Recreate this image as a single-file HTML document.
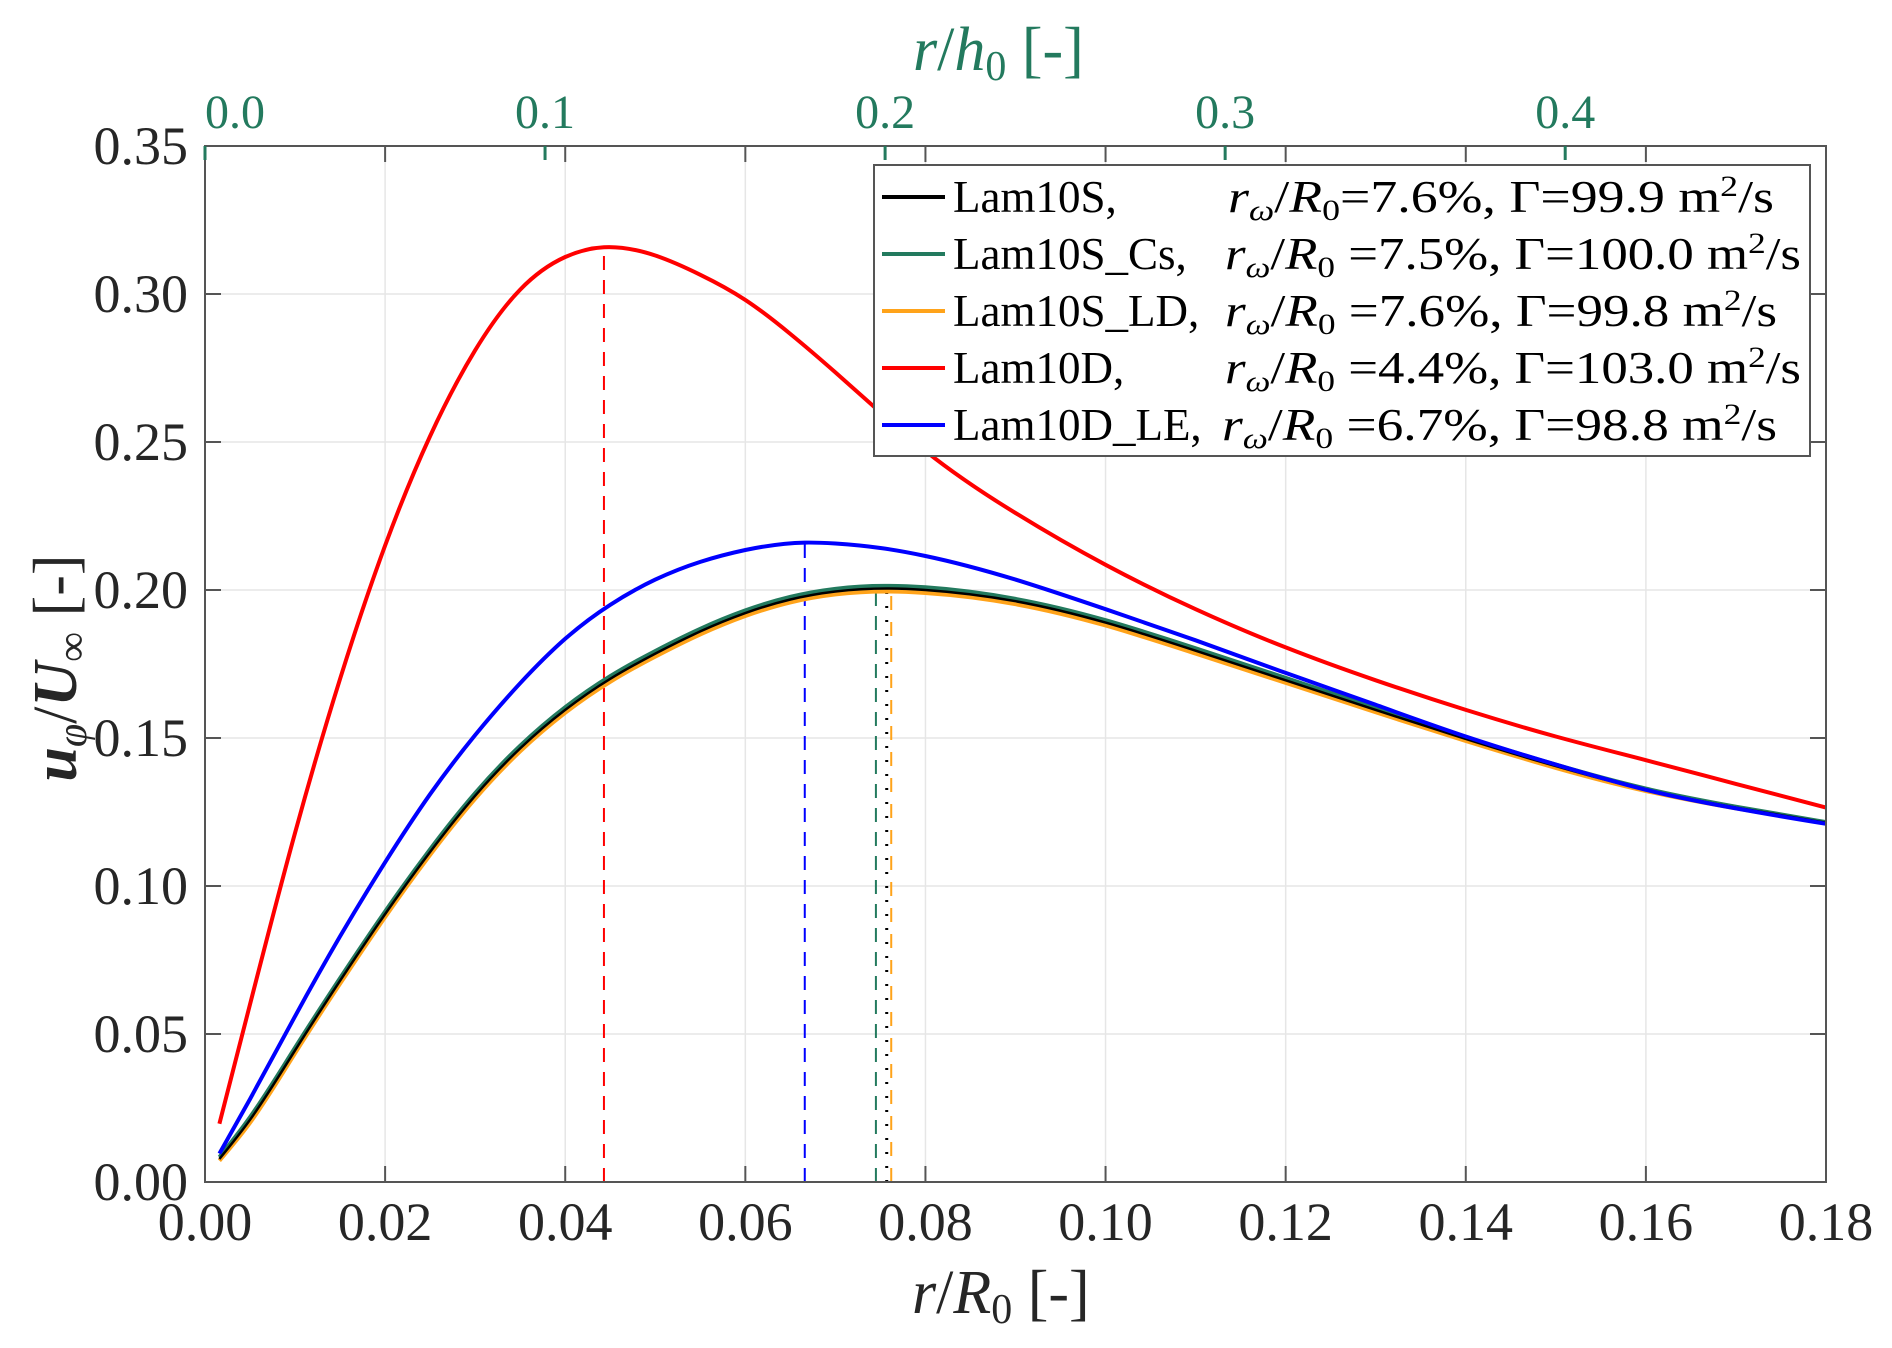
<!DOCTYPE html>
<html><head><meta charset="utf-8"><style>
html,body{margin:0;padding:0;background:#fff;}
svg{display:block;font-family:"Liberation Serif","DejaVu Serif",serif;}
</style></head><body>
<svg id="chart" width="1892" height="1348" viewBox="0 0 1892 1348" xmlns="http://www.w3.org/2000/svg">
<rect x="0" y="0" width="1892" height="1348" fill="#fff"/>
<g id="grid"></g>
<g id="marks"></g>
<g id="axes"></g>
<g id="legend"></g>
</svg>
<script>
const xTicks = [0.00,0.02,0.04,0.06,0.08,0.10,0.12,0.14,0.16,0.18];
const xTickLabels = ["0.00","0.02","0.04","0.06","0.08","0.10","0.12","0.14","0.16","0.18"];
const yTicks = [0,0.05,0.10,0.15,0.20,0.25,0.30,0.35];
const yTickLabels = ["0.00","0.05","0.10","0.15","0.20","0.25","0.30","0.35"];
const topTicks = [0.0,0.1,0.2,0.3,0.4];
const topTickLabels = ["0.0","0.1","0.2","0.3","0.4"];
const hRatio = 0.3776; // r/R0 per unit r/h0

const xRed = [0.0016,0.005,0.01,0.015,0.02,0.025,0.03,0.035,0.04,0.0443,0.05,0.055,0.06,0.065,0.07,0.075,0.08,0.09,0.10,0.11,0.12,0.13,0.14,0.15,0.16,0.17,0.18];
const yRed = [0.0197,0.060,0.118,0.170,0.215,0.252,0.281,0.3015,0.3125,0.3158,0.3130,0.3065,0.298,0.2865,0.2735,0.2600,0.2470,0.2260,0.2085,0.1935,0.1806,0.1695,0.1595,0.1505,0.1425,0.1345,0.1265];
const xBlue = [0.0016,0.005,0.01,0.015,0.02,0.025,0.03,0.035,0.04,0.045,0.05,0.055,0.06,0.0666,0.07,0.075,0.08,0.09,0.10,0.11,0.12,0.13,0.14,0.15,0.16,0.17,0.18];
const yBlue = [0.0096,0.028,0.056,0.083,0.108,0.131,0.151,0.1685,0.1835,0.1950,0.2035,0.2095,0.2135,0.216,0.2157,0.2142,0.2115,0.2035,0.1935,0.183,0.172,0.1612,0.1505,0.141,0.1325,0.1262,0.121];
const xBase = [0.0016,0.005,0.01,0.015,0.02,0.025,0.03,0.035,0.04,0.045,0.05,0.055,0.06,0.065,0.07,0.0757,0.08,0.09,0.10,0.11,0.12,0.13,0.14,0.15,0.16,0.17,0.18];
const yBlack = [0.0078,0.021,0.0445,0.068,0.0905,0.1115,0.1305,0.1465,0.1595,0.170,0.1785,0.186,0.1922,0.1968,0.1995,0.2005,0.2,0.1962,0.189,0.1795,0.1695,0.1595,0.1497,0.1405,0.1325,0.1265,0.1214];
const yGreen = [0.0084,0.0219,0.0454,0.0689,0.0914,0.1124,0.1314,0.1474,0.1604,0.1709,0.1794,0.1869,0.1931,0.1977,0.2004,0.2014,0.2009,0.197,0.1898,0.1803,0.1703,0.1602,0.1503,0.141,0.1329,0.1268,0.1216];
const yOrange = [0.0072,0.0200,0.0435,0.067,0.0895,0.1105,0.1295,0.1455,0.1585,0.169,0.1775,0.185,0.1912,0.1958,0.1985,0.1995,0.199,0.1952,0.188,0.1785,0.1686,0.1587,0.149,0.1399,0.1321,0.1262,0.1212];
const peakR = [0.0443,0.0666,0.0745,0.0757,0.0762];
const peakV = [0.3158,0.216,0.2015,0.2005,0.1995];

const L=205, R=1826, T=146, B=1182;
const xS = v => L + (v-0)/(0.18-0)*(R-L);
const yS = v => B - (v-0)/(0.35-0)*(B-T);
const NS="http://www.w3.org/2000/svg";
function mk(tag, parent, attrs){const e=document.createElementNS(NS,tag);for(const k in attrs)e.setAttribute(k,attrs[k]);parent.appendChild(e);return e;}
const grid=document.getElementById('grid'), marks=document.getElementById('marks'), axes=document.getElementById('axes'), leg=document.getElementById('legend');

xTicks.forEach((t,i)=>{
  if(i>0&&i<xTicks.length-1){const g=mk('line',grid,{x1:xS(t),x2:xS(t),y1:T,y2:B,stroke:'#e6e6e6','stroke-width':1.5});
  
  }
  const tk=mk('line',axes,{x1:xS(t),x2:xS(t),y1:B,y2:B-16,stroke:'#555','stroke-width':2});
  
  
  const tk2=mk('line',axes,{x1:xS(t),x2:xS(t),y1:T,y2:T+16,stroke:'#555','stroke-width':2});
  
  
  const lb=mk('text',axes,{x:xS(t),y:1240,'text-anchor':'middle','font-size':54,fill:'#262626'});
  lb.textContent=xTickLabels[i];
  
  
});
yTicks.forEach((t,i)=>{
  if(i>0&&i<yTicks.length-1){const g=mk('line',grid,{x1:L,x2:R,y1:yS(t),y2:yS(t),stroke:'#e6e6e6','stroke-width':1.5});
  
  }
  const tk=mk('line',axes,{x1:L,x2:L+16,y1:yS(t),y2:yS(t),stroke:'#555','stroke-width':2});
  
  
  const tk2=mk('line',axes,{x1:R,x2:R-16,y1:yS(t),y2:yS(t),stroke:'#555','stroke-width':2});
  
  
  const lb=mk('text',axes,{x:188,y:yS(t)+18,'text-anchor':'end','font-size':54,fill:'#262626'});
  lb.textContent=yTickLabels[i];
  
  
});
const box=mk('rect',axes,{x:L,y:T,width:R-L,height:B-T,fill:'none',stroke:'#555','stroke-width':2});


topTicks.forEach((t,i)=>{
  const x=xS(t*hRatio);
  const tk=mk('line',axes,{x1:x,x2:x,y1:T,y2:T+14,stroke:'#237a5e','stroke-width':3});
  
  
  const lb=mk('text',axes,{x:x,y:128,'text-anchor':i===0?'start':'middle','font-size':48,fill:'#237a5e'});
  lb.textContent=topTickLabels[i];
  
  
});

// natural cubic spline through the data, emitted as bezier segments
function smooth(xs,ys){
  const n=xs.length, h=[], M=new Array(n).fill(0);
  for(let i=0;i<n-1;i++) h.push(xs[i+1]-xs[i]);
  const a=new Array(n).fill(0), b=new Array(n).fill(1), c=new Array(n).fill(0), r=new Array(n).fill(0);
  for(let i=1;i<n-1;i++){
    a[i]=h[i-1]; b[i]=2*(h[i-1]+h[i]); c[i]=h[i];
    r[i]=6*((ys[i+1]-ys[i])/h[i]-(ys[i]-ys[i-1])/h[i-1]);
  }
  for(let i=1;i<n;i++){const w=a[i]/b[i-1]; b[i]-=w*c[i-1]; r[i]-=w*r[i-1];}
  M[n-1]=r[n-1]/b[n-1];
  for(let i=n-2;i>=0;i--) M[i]=(r[i]-c[i]*M[i+1])/b[i];
  let p='M'+xS(xs[0]).toFixed(1)+','+yS(ys[0]).toFixed(1);
  for(let i=0;i<n-1;i++){
    const hi=h[i], d=(ys[i+1]-ys[i])/hi;
    const m0=d-hi*(2*M[i]+M[i+1])/6, m1=d+hi*(M[i]+2*M[i+1])/6;
    const c1x=xs[i]+hi/3, c1y=ys[i]+m0*hi/3;
    const c2x=xs[i+1]-hi/3, c2y=ys[i+1]-m1*hi/3;
    p+=' C'+xS(c1x).toFixed(1)+','+yS(c1y).toFixed(1)+' '+xS(c2x).toFixed(1)+','+yS(c2y).toFixed(1)+' '+xS(xs[i+1]).toFixed(1)+','+yS(ys[i+1]).toFixed(1);
  }
  return p;
}
const vcol=['#ff0000','#0000ff','#237a5e','#000000','#ffa31a'];
const vdash=['14,10','14,10','14,10','2,12','14,12'];
const vnames=['peak-line-lam10d','peak-line-lam10d-le','peak-line-lam10s-cs','peak-line-lam10s','peak-line-lam10s-ld'];
peakR.forEach((r,i)=>{
  const v=mk('line',marks,{x1:xS(r),x2:xS(r),y1:B,y2:yS(peakV[i]),stroke:vcol[i],'stroke-width':i===3?3:2,'stroke-dasharray':vdash[i]});
  
  
});
const series=[
  ['curve-lam10s-ld',xBase,yOrange,'#ffa31a'],
  ['curve-lam10s-cs',xBase,yGreen,'#237a5e'],
  ['curve-lam10s',xBase,yBlack,'#000000'],
  ['curve-lam10d-le',xBlue,yBlue,'#0000ff'],
  ['curve-lam10d',xRed,yRed,'#ff0000']];
series.forEach(s=>{
  const p=mk('path',marks,{d:smooth(s[1],s[2]),fill:'none',stroke:s[3],'stroke-width':s[0]==='curve-lam10s'?2.5:4});
  
  
});

// legend
const lbox=mk('rect',leg,{x:874,y:165,width:936,height:291,fill:'#fff',stroke:'#555','stroke-width':2});


const lnames=['Lam10S,','Lam10S_Cs,','Lam10S_LD,','Lam10D,','Lam10D_LE,'];
const lcols=['#000000','#237a5e','#ffa31a','#ff0000','#0000ff'];
const lpct=['=7.6%','\u00a0=7.5%','\u00a0=7.6%','\u00a0=4.4%','\u00a0=6.7%'];
const lgam=['99.9','100.0','99.8','103.0','98.8'];
const lx2=[1228,1225,1225,1225,1222];
const lend=[1774,1801,1777,1801,1777];
lnames.forEach((n,i)=>{
  const y=197+i*57;
  const ln=mk('line',leg,{x1:882,x2:945,y1:y,y2:y,stroke:lcols[i],'stroke-width':4});
  
  
  const t=mk('text',leg,{x:953,y:y+15,'font-size':45,fill:'#000'});
  t.textContent=n;
  
  
  const t2=mk('text',leg,{x:lx2[i],y:y+15,'font-size':45,fill:'#000',textLength:lend[i]-lx2[i],lengthAdjust:'spacingAndGlyphs'});
  t2.innerHTML='<tspan font-style="italic">r</tspan><tspan font-style="italic" font-size="30" dy="8">\u03c9</tspan><tspan dy="-8">/</tspan><tspan font-style="italic">R</tspan><tspan font-size="30" dy="8">0</tspan><tspan dy="-8">'+lpct[i]+', \u0393='+lgam[i]+' m</tspan><tspan font-size="30" dy="-16">2</tspan><tspan dy="16">/s</tspan>';
  
  
});
</script>
<svg width="1892" height="1348" style="position:absolute;left:0;top:0;pointer-events:none" xmlns="http://www.w3.org/2000/svg">
<text x="912" y="1313" font-family="Liberation Serif, serif" font-size="62" fill="#262626"><tspan font-style="italic">r</tspan>/<tspan font-style="italic">R</tspan><tspan font-size="42" dy="10">0</tspan><tspan dy="-10"> [-]</tspan></text>
<text x="913" y="70" font-family="Liberation Serif, serif" font-size="62" fill="#237a5e"><tspan font-style="italic">r</tspan>/<tspan font-style="italic">h</tspan><tspan font-size="42" dy="10">0</tspan><tspan dy="-10"> [-]</tspan></text>
<text transform="translate(76,668) rotate(-90)" text-anchor="middle" font-family="Liberation Serif, serif" font-size="62" fill="#262626"><tspan font-style="italic" font-weight="bold">u</tspan><tspan font-style="italic" font-size="42" dy="10">φ</tspan><tspan dy="-10">/</tspan><tspan font-style="italic" font-weight="bold">U</tspan><tspan font-size="42" dy="10">∞</tspan><tspan dy="-10"> [-]</tspan></text>
</svg>
</body></html>
